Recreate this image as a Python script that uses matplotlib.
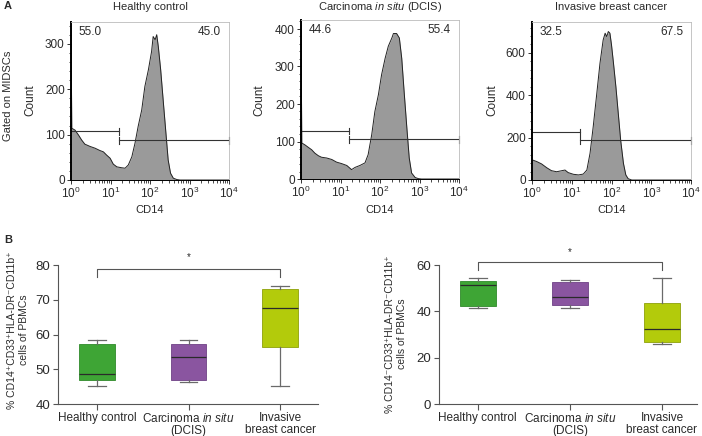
import numpy as np
import matplotlib
matplotlib.use('Agg')
import matplotlib.pyplot as plt
from matplotlib.ticker import LogLocator, NullFormatter, MultipleLocator

plt.rcParams['font.family'] = ['Liberation Sans', 'DejaVu Sans']
plt.rcParams['mathtext.fontset'] = 'custom'
plt.rcParams['mathtext.rm'] = 'Liberation Sans'
plt.rcParams['mathtext.it'] = 'Liberation Sans:italic'
plt.rcParams['text.color'] = '#2a2a2a'
plt.rcParams['xtick.labelcolor'] = '#2a2a2a'
plt.rcParams['ytick.labelcolor'] = '#2a2a2a'

# ---- panel A: CD14 histograms (x given as log10 of CD14, y as count) ----
hist_titles = ['Healthy control', 'Carcinoma $\\it{in\\ situ}$ (DCIS)', 'Invasive breast cancer']

hc_logx = [0.0, 0.02, 0.10, 0.19, 0.27, 0.35, 0.48, 0.61, 0.73, 0.82, 0.90, 0.99, 1.07, 1.16,
           1.28, 1.37, 1.45, 1.54, 1.62, 1.70, 1.79, 1.87, 1.96, 2.04, 2.08, 2.13, 2.17, 2.21,
           2.27, 2.34, 2.41, 2.46, 2.52, 2.59, 2.68, 2.76, 4.0]
hc_count = [335, 114, 110, 99, 88, 79, 74, 70, 65, 62, 55, 48, 35, 29,
            27, 26, 33, 51, 81, 118, 154, 206, 243, 283, 316, 309, 320, 294,
            243, 169, 96, 44, 15, 4, 1, 0, 0]

dcis_logx = [0.0, 0.02, 0.10, 0.19, 0.27, 0.35, 0.44, 0.52, 0.65, 0.78, 0.90, 1.03, 1.16, 1.28,
             1.37, 1.49, 1.62, 1.70, 1.79, 1.87, 1.96, 2.04, 2.13, 2.21, 2.30, 2.34, 2.42,
             2.49, 2.55, 2.61, 2.68, 2.74, 2.80, 2.89, 2.97, 3.05, 4.0]
dcis_count = [410, 96, 91, 84, 78, 69, 62, 58, 56, 52, 45, 41, 36, 25,
              31, 36, 43, 65, 118, 180, 225, 278, 322, 354, 376, 388, 388,
              376, 322, 234, 136, 56, 16, 4, 1, 0, 0]

ibc_logx = [0.0, 0.02, 0.12, 0.24, 0.37, 0.49, 0.62, 0.75, 0.83, 0.91, 1.04, 1.17, 1.29, 1.38,
            1.46, 1.54, 1.63, 1.71, 1.79, 1.84, 1.88, 1.92, 1.96, 2.00, 2.05, 2.11, 2.17,
            2.23, 2.30, 2.36, 2.42, 2.51, 4.0]
ibc_count = [90, 94, 87, 76, 58, 44, 39, 44, 47, 35, 27, 24, 28, 47,
             126, 252, 409, 551, 661, 693, 677, 701, 693, 638, 551, 441, 315,
             189, 79, 24, 6, 0, 0]

hist_logx = [hc_logx, dcis_logx, ibc_logx]
hist_count = [hc_count, dcis_count, ibc_count]
hist_ymax = [348, 424, 746]
hist_ystep = [100, 100, 200]
gate_left_pct = ['55.0', '44.6', '32.5']
gate_right_pct = ['45.0', '55.4', '67.5']
gate_split = 16
gate_left_y = [107, 128, 226]
gate_right_y = [88, 106, 188]

# ---- panel B: box plots ----
box_groups = ['Healthy control', 'Carcinoma $\\it{in\\ situ}$\n(DCIS)', 'Invasive\nbreast cancer']
box_colors = ['#3ea535', '#8a55a0', '#b3cb0b']
box_edges = ['#2f8a2a', '#6f4185', '#8da00a']

m_whislo = [45.3, 46.3, 45.2]
m_q1 = [46.8, 46.8, 56.3]
m_med = [48.6, 53.4, 67.5]
m_q3 = [57.3, 57.3, 73.2]
m_whishi = [58.4, 58.4, 74.1]

p_whislo = [41.4, 41.3, 25.8]
p_q1 = [42.3, 42.7, 26.6]
p_med = [51.2, 46.3, 32.4]
p_q3 = [53.1, 52.8, 43.5]
p_whishi = [54.2, 53.4, 54.2]

W, H = 702, 436
fig = plt.figure(figsize=(W / 100, H / 100), dpi=100)


def px_axes(x0, y0, x1, y1):
    return fig.add_axes([x0 / W, 1 - y1 / H, (x1 - x0) / W, (y1 - y0) / H])


fs = 8
hist_boxes = [(71, 22, 229, 180), (301, 20, 459, 179), (532, 22, 691, 180)]
count_x = [30, 259, 492]
for i in range(3):
    ax = px_axes(*hist_boxes[i])
    x = 10 ** np.array(hist_logx[i])
    ax.fill_between(x, hist_count[i], color='#9a9a9a', lw=0)
    ax.plot(x, hist_count[i], color='#222222', lw=0.7)
    ax.set_xscale('log')
    ax.set_xlim(1, 1e4)
    ax.set_ylim(0, hist_ymax[i])
    ax.xaxis.set_major_locator(LogLocator(base=10, numticks=10))
    ax.xaxis.set_minor_locator(LogLocator(base=10, subs=np.arange(2, 10), numticks=10))
    ax.xaxis.set_minor_formatter(NullFormatter())
    ax.yaxis.set_major_locator(MultipleLocator(hist_ystep[i]))
    ax.yaxis.set_minor_locator(MultipleLocator(hist_ystep[i] / 5))
    ax.tick_params(labelsize=8.5, length=3, width=0.7, pad=1.5, color='#333333')
    ax.tick_params(which='minor', length=1.8, width=0.5)
    for s in ['top', 'right']:
        ax.spines[s].set_color('#bbbbbb')
        ax.spines[s].set_linewidth(0.6)
    ax.spines['left'].set_linewidth(1.4)
    ax.spines['bottom'].set_linewidth(0.7)
    # gates
    ax.plot([1, gate_split], [gate_left_y[i]] * 2, color='#333333', lw=0.8)
    ax.plot([gate_split, 1e4], [gate_right_y[i]] * 2, color='#333333', lw=0.8)
    tk = hist_ymax[i] * 0.022
    ax.plot([gate_split] * 2, [gate_left_y[i] - tk, gate_left_y[i] + tk], color='#333333', lw=0.8)
    ax.plot([gate_split] * 2, [gate_right_y[i] - tk, gate_right_y[i] + tk], color='#333333', lw=0.8)
    ax.plot([1e4] * 2, [gate_right_y[i] - tk, gate_right_y[i] + tk], color='#333333', lw=0.8, clip_on=False)
    ax.text(0.05, 0.935, gate_left_pct[i], transform=ax.transAxes, fontsize=8.5, ha='left', va='center')
    ax.text(0.95, 0.935, gate_right_pct[i], transform=ax.transAxes, fontsize=8.5, ha='right', va='center')
    x0, y0, x1, y1 = hist_boxes[i]
    fig.text((x0 + x1) / 2 / W, 1 - 7 / H, hist_titles[i], fontsize=fs, ha='center', va='center')
    fig.text((x0 + x1) / 2 / W, 1 - 210 / H, 'CD14', fontsize=fs, ha='center', va='center')
    fig.text(count_x[i] / W, 1 - 100 / H, 'Count', fontsize=8.5, rotation=90, ha='center', va='center')

fig.text(8 / W, 1 - 96 / H, 'Gated on MIDSCs', fontsize=8, rotation=90, ha='center', va='center')
fig.text(4 / W, 1 - 6 / H, 'A', fontsize=8, fontweight='bold', ha='left', va='center')
fig.text(4 / W, 1 - 240 / H, 'B', fontsize=8, fontweight='bold', ha='left', va='center')


def box_panel(ax, whislo, q1, med, q3, whishi, ylim, ystep, bracket, star_y, xlim):
    stats = []
    for k in range(3):
        stats.append(dict(whislo=whislo[k], q1=q1[k], med=med[k], q3=q3[k], whishi=whishi[k]))
    bp = ax.bxp(stats, positions=[0, 1, 2], widths=0.39, patch_artist=True, showfliers=False,
                whiskerprops=dict(color='#6a6a6a', lw=0.9),
                capprops=dict(color='#6a6a6a', lw=0.9),
                medianprops=dict(color='#2a2a2a', lw=0.9))
    for k, b in enumerate(bp['boxes']):
        b.set_facecolor(box_colors[k])
        b.set_edgecolor(box_edges[k])
        b.set_linewidth(0.6)
    ax.set_xlim(*xlim)
    ax.set_ylim(*ylim)
    ax.yaxis.set_major_locator(MultipleLocator(ystep))
    ax.set_xticks([0, 1, 2])
    ax.set_xticklabels(box_groups, fontsize=8.5, linespacing=1.0)
    ax.tick_params(axis='y', labelsize=9.5, length=3.5, width=0.8, color='#555555', pad=2)
    ax.tick_params(axis='x', length=4, width=0.8, color='#555555', pad=2)
    for s in ['top', 'right']:
        ax.spines[s].set_visible(False)
    for s in ['left', 'bottom']:
        ax.spines[s].set_color('#555555')
        ax.spines[s].set_linewidth(0.8)
    top, low = bracket
    ax.plot([0, 0, 2, 2], [low, top, top, low], color='#555555', lw=0.8, clip_on=False)
    ax.text(1, star_y, '*', fontsize=7, ha='center', va='center')


axb1 = px_axes(58, 265, 318, 404)
box_panel(axb1, m_whislo, m_q1, m_med, m_q3, m_whishi, (40, 80), 10, (78.8, 76.5), 82.3, (-0.426, 2.415))
axb2 = px_axes(439, 265, 697, 404)
box_panel(axb2, p_whislo, p_q1, p_med, p_q3, p_whishi, (0, 60), 20, (61.2, 57.8), 65.6, (-0.42, 2.38))

fig.text(18 / W, 1 - 330 / H, '% CD14\u207aCD33\u207aHLA-DR\u207bCD11b\u207a\ncells of PBMCs',
         fontsize=7.5, rotation=90, ha='center', va='center', linespacing=1.25)
fig.text(396 / W, 1 - 334 / H, '% CD14\u207bCD33\u207aHLA-DR\u207bCD11b\u207a\ncells of PBMCs',
         fontsize=7.5, rotation=90, ha='center', va='center', linespacing=1.25)

fig.savefig('out.png', dpi=100)
